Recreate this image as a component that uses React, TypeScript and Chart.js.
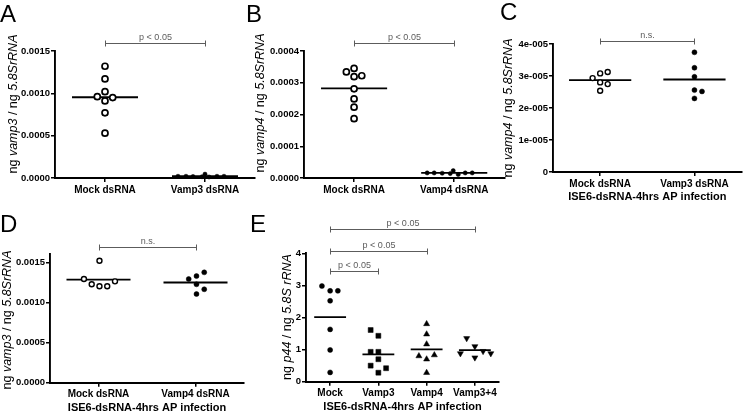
import React, { useEffect, useRef } from 'react';
import { Chart, registerables } from 'chart.js';
Chart.register(...registerables);

const FONT = 'Arial, "Liberation Sans", Helvetica, sans-serif';

// ---------- Panel A ----------
const A_CATEGORIES = ['Mock dsRNA', 'Vamp3 dsRNA'];
const A_MOCK = [0.00132, 0.00117, 0.00102, 0.00096, 0.00095, 0.00091, 0.00077, 0.00053];
const A_MOCK_X_OFFSET = [0, 0, 0, -0.077, 0.077, 0, 0, 0];
const A_VAMP3 = [0.00002, 0.00002, 0.000018, 0.000015, 0.000045, 0.000012, 0.00002, 0.00002];
const A_VAMP3_X_OFFSET = [-0.27, -0.19, -0.12, -0.03, 0, 0.04, 0.12, 0.19];
const A_Y_TICKS = [0, 0.0005, 0.001, 0.0015];
const A_Y_TICK_LABELS = ['0.0000', '0.0005', '0.0010', '0.0015'];
const A_Y_TITLE = [['ng ', false], ['vamp3', true], [' / ng ', false], ['5.8SrRNA', true]];

// ---------- Panel B ----------
const B_CATEGORIES = ['Mock dsRNA', 'Vamp4 dsRNA'];
const B_MOCK = [0.000334, 0.000345, 0.000319, 0.000322, 0.000281, 0.000249, 0.000223, 0.000187];
const B_MOCK_X_OFFSET = [-0.077, 0, 0, 0.077, 0, 0, 0, 0];
const B_VAMP4 = [0.000016, 0.000016, 0.000015, 0.000014, 0.000023, 0.000011, 0.000016, 0.000016];
const B_VAMP4_X_OFFSET = [-0.27, -0.2, -0.12, -0.04, -0.01, 0.04, 0.11, 0.18];
const B_Y_TICKS = [0, 0.0001, 0.0002, 0.0003, 0.0004];
const B_Y_TICK_LABELS = ['0.0000', '0.0001', '0.0002', '0.0003', '0.0004'];
const B_Y_TITLE = [['ng ', false], ['vamp4', true], [' / ng ', false], ['5.8SrRNA', true]];

// ---------- Panel C ----------
const C_CATEGORIES = ['Mock dsRNA', 'Vamp3 dsRNA'];
const C_MOCK = [2.935e-5, 3.082e-5, 3.123e-5, 2.8e-5, 2.747e-5, 2.537e-5];
const C_MOCK_X_OFFSET = [-0.08, 0, 0.08, 0, 0.08, 0];
const C_VAMP3 = [3.74e-5, 3.257e-5, 2.975e-5, 2.559e-5, 2.518e-5, 2.299e-5];
const C_VAMP3_X_OFFSET = [0, 0, 0, 0, 0.08, 0];
const C_Y_TICKS = [0, 1e-5, 2e-5, 3e-5, 4e-5];
const C_Y_TICK_LABELS = ['0', '1e-005', '2e-005', '3e-005', '4e-005'];
const C_Y_TITLE = [['ng ', false], ['vamp4', true], [' / ng ', false], ['5.8SrRNA', true]];

// ---------- Panel D ----------
const D_CATEGORIES = ['Mock dsRNA', 'Vamp4 dsRNA'];
const D_MOCK = [0.001292, 0.00152, 0.001226, 0.001201, 0.001201, 0.001263];
const D_MOCK_X_OFFSET = [-0.15, 0.01, -0.07, 0.01, 0.09, 0.17];
const D_VAMP4 = [0.001292, 0.001329, 0.001375, 0.001226, 0.001164, 0.001105];
const D_VAMP4_X_OFFSET = [-0.07, 0.01, 0.09, 0.01, 0.09, 0.01];
const D_Y_TICKS = [0, 0.0005, 0.001, 0.0015];
const D_Y_TICK_LABELS = ['0.0000', '0.0005', '0.0010', '0.0015'];
const D_Y_TITLE = [['ng ', false], ['vamp3', true], [' / ng ', false], ['5.8SrRNA', true]];

// ---------- Panel E ----------
const E_CATEGORIES = ['Mock', 'Vamp3', 'Vamp4', 'Vamp3+4'];
const E_MOCK = [2.98, 2.83, 2.83, 2.52, 1.63, 0.99, 0.29];
const E_MOCK_X_OFFSET = [-0.17, 0, 0.16, 0, 0, 0, 0];
const E_VAMP3 = [1.61, 1.43, 0.93, 0.93, 0.7, 0.5, 0.42, 0.28];
const E_VAMP3_X_OFFSET = [-0.16, 0, -0.16, 0, 0, -0.16, 0.16, 0];
const E_VAMP4 = [1.8, 1.48, 1.17, 0.8, 0.83, 0.7, 0.28];
const E_VAMP4_X_OFFSET = [0, 0, 0, -0.16, 0.16, 0, 0];
const E_VAMP34 = [1.35, 1.1, 0.88, 0.95, 0.88, 0.75];
const E_VAMP34_X_OFFSET = [-0.17, 0, -0.3, 0.17, 0.33, 0];
const E_Y_TICKS = [0, 1, 2, 3, 4];
const E_Y_TICK_LABELS = ['0', '1', '2', '3', '4'];
const E_Y_TITLE = [['ng ', false], ['p44', true], [' / ng ', false], ['5.8S rRNA', true]];

const X_TITLE = 'ISE6-dsRNA-4hrs AP infection';

// ---------- marker styles ----------
const OPEN_BIG = { style: 'circle', radius: 3, borderWidth: 1.7, fill: '#ffffff', rotation: 0 };
const DOT_SMALL = { style: 'circle', radius: 2.1, borderWidth: 0.5, fill: '#000000', rotation: 0 };
const OPEN_MED = { style: 'circle', radius: 2.5, borderWidth: 1.4, fill: '#ffffff', rotation: 0 };
const DOT_MED = { style: 'circle', radius: 2.5, borderWidth: 0.5, fill: '#000000', rotation: 0 };
const SQUARE = { style: 'rect', radius: 3.5, borderWidth: 0.5, fill: '#000000', rotation: 0 };
const TRI_UP = { style: 'triangle', radius: 3.5, borderWidth: 0.5, fill: '#000000', rotation: 0 };
const TRI_DOWN = { style: 'triangle', radius: 3.5, borderWidth: 0.5, fill: '#000000', rotation: 180 };

const MEAN_HALF = 0.33;
const BRACKET_COLOR = '#5c5c5c';

const PANELS = [
  {
    letter: 'A', letterPos: [0, 22],
    canvas: { x: 0, y: 0, w: 262, h: 205 },
    area: { left: 55, right: 255, top: 51, bottom: 178 },
    categories: A_CATEGORIES,
    groups: [
      { values: A_MOCK, offsets: A_MOCK_X_OFFSET, marker: OPEN_BIG },
      { values: A_VAMP3, offsets: A_VAMP3_X_OFFSET, marker: DOT_SMALL },
    ],
    yMin: 0, yMax: 0.0015, yTicks: A_Y_TICKS, yTickLabels: A_Y_TICK_LABELS,
    yTitle: A_Y_TITLE, yTitlePos: [14, 104],
    xTitle: null, xTitleY: 0,
    brackets: [{ from: 1, to: 2, level: 0.0016, label: 'p < 0.05' }],
  },
  {
    letter: 'B', letterPos: [246, 22],
    canvas: { x: 245, y: 0, w: 265, h: 205 },
    area: { left: 304, right: 506, top: 51, bottom: 178 },
    categories: B_CATEGORIES,
    groups: [
      { values: B_MOCK, offsets: B_MOCK_X_OFFSET, marker: OPEN_BIG },
      { values: B_VAMP4, offsets: B_VAMP4_X_OFFSET, marker: DOT_SMALL },
    ],
    yMin: 0, yMax: 0.0004, yTicks: B_Y_TICKS, yTickLabels: B_Y_TICK_LABELS,
    yTitle: B_Y_TITLE, yTitlePos: [261, 103],
    xTitle: null, xTitleY: 0,
    brackets: [{ from: 1, to: 2, level: 0.000425, label: 'p < 0.05' }],
  },
  {
    letter: 'C', letterPos: [500, 20],
    canvas: { x: 495, y: 0, w: 252, h: 205 },
    area: { left: 553, right: 747, top: 44, bottom: 172 },
    categories: C_CATEGORIES,
    groups: [
      { values: C_MOCK, offsets: C_MOCK_X_OFFSET, marker: OPEN_MED },
      { values: C_VAMP3, offsets: C_VAMP3_X_OFFSET, marker: DOT_MED },
    ],
    yMin: 0, yMax: 4e-5, yTicks: C_Y_TICKS, yTickLabels: C_Y_TICK_LABELS,
    yTitle: C_Y_TITLE, yTitlePos: [508.5, 108],
    xTitle: X_TITLE, xTitleY: 197,
    brackets: [{ from: 1, to: 2, level: 4.1e-5, label: 'n.s.' }],
  },
  {
    letter: 'D', letterPos: [0, 232],
    canvas: { x: 0, y: 205, w: 250, h: 206 },
    area: { left: 50, right: 244, top: 254.3, bottom: 382.7 },
    categories: D_CATEGORIES,
    groups: [
      { values: D_MOCK, offsets: D_MOCK_X_OFFSET, marker: OPEN_MED },
      { values: D_VAMP4, offsets: D_VAMP4_X_OFFSET, marker: DOT_MED },
    ],
    yMin: 0, yMax: 0.0016, yTicks: D_Y_TICKS, yTickLabels: D_Y_TICK_LABELS,
    yTitle: D_Y_TITLE, yTitlePos: [8, 320],
    xTitle: X_TITLE, xTitleY: 408,
    brackets: [{ from: 1, to: 2, level: 0.00169, label: 'n.s.' }],
  },
  {
    letter: 'E', letterPos: [250, 232],
    canvas: { x: 245, y: 205, w: 262, h: 206 },
    area: { left: 306, right: 499, top: 253.3, bottom: 381.7 },
    categories: E_CATEGORIES,
    groups: [
      { values: E_MOCK, offsets: E_MOCK_X_OFFSET, marker: DOT_MED },
      { values: E_VAMP3, offsets: E_VAMP3_X_OFFSET, marker: SQUARE },
      { values: E_VAMP4, offsets: E_VAMP4_X_OFFSET, marker: TRI_UP },
      { values: E_VAMP34, offsets: E_VAMP34_X_OFFSET, marker: TRI_DOWN },
    ],
    yMin: 0, yMax: 4, yTicks: E_Y_TICKS, yTickLabels: E_Y_TICK_LABELS,
    yTitle: E_Y_TITLE, yTitlePos: [288, 317],
    xTitle: X_TITLE, xTitleY: 407,
    brackets: [
      { from: 1, to: 2, level: 3.45, label: 'p < 0.05' },
      { from: 1, to: 3, level: 4.07, label: 'p < 0.05' },
      { from: 1, to: 4, level: 4.76, label: 'p < 0.05' },
    ],
  },
];

const Y_TITLE_SIZE = 12.5;

function decorPlugin(p: any) {
  return {
    id: 'decor' + p.letter,
    afterDraw(chart: any) {
      const ctx = chart.ctx;
      const ox = p.canvas.x;
      const oy = p.canvas.y;
      ctx.save();
      // panel letter
      ctx.fillStyle = '#000';
      ctx.font = `24px ${FONT}`;
      ctx.textAlign = 'left';
      ctx.textBaseline = 'alphabetic';
      ctx.fillText(p.letter, p.letterPos[0] - ox, p.letterPos[1] - oy);

      // y title (mixed italic)
      ctx.save();
      ctx.translate(p.yTitlePos[0] - ox, p.yTitlePos[1] - oy);
      ctx.rotate(-Math.PI / 2);
      const fontFor = (it: boolean) => `${it ? 'italic ' : ''}${Y_TITLE_SIZE}px ${FONT}`;
      let total = 0;
      const widths = p.yTitle.map((s: any) => {
        ctx.font = fontFor(s[1]);
        const w = ctx.measureText(s[0]).width;
        total += w;
        return w;
      });
      let x = -total / 2;
      ctx.textBaseline = 'middle';
      p.yTitle.forEach((s: any, i: number) => {
        ctx.font = fontFor(s[1]);
        ctx.fillText(s[0], x, 0);
        x += widths[i];
      });
      ctx.restore();

      // x title
      if (p.xTitle) {
        ctx.font = `bold 11px ${FONT}`;
        ctx.textAlign = 'center';
        ctx.textBaseline = 'middle';
        ctx.fillText(p.xTitle, (chart.chartArea.left + chart.chartArea.right) / 2, p.xTitleY - oy);
      }

      // significance brackets
      const xs = chart.scales.x;
      const ys = chart.scales.y;
      ctx.strokeStyle = BRACKET_COLOR;
      ctx.fillStyle = BRACKET_COLOR;
      ctx.lineWidth = 1;
      p.brackets.forEach((b: any) => {
        const x1 = Math.round(xs.getPixelForValue(b.from)) + 0.5;
        const x2 = Math.round(xs.getPixelForValue(b.to)) + 0.5;
        const y = Math.round(ys.getPixelForValue(b.level)) + 0.5;
        ctx.beginPath();
        ctx.moveTo(x1, y - 3);
        ctx.lineTo(x1, y + 3);
        ctx.moveTo(x1, y);
        ctx.lineTo(x2, y);
        ctx.moveTo(x2, y - 3);
        ctx.lineTo(x2, y + 3);
        ctx.stroke();
        ctx.font = `9px ${FONT}`;
        ctx.textAlign = 'center';
        ctx.textBaseline = 'alphabetic';
        ctx.fillText(b.label, (x1 + x2) / 2, y - 4);
      });
      ctx.restore();
    },
  };
}

function buildConfig(p: any) {
  const c = p.canvas;
  const a = p.area;
  const datasets: any[] = [];
  p.groups.forEach((g: any, gi: number) => {
    const cat = gi + 1;
    datasets.push({
      data: g.values.map((v: number, i: number) => ({ x: cat + g.offsets[i], y: v })),
      pointStyle: g.marker.style,
      pointRotation: g.marker.rotation,
      pointRadius: g.marker.radius,
      pointBorderWidth: g.marker.borderWidth,
      pointBackgroundColor: g.marker.fill,
      pointBorderColor: '#000',
      showLine: false,
      clip: false,
      order: 0,
    });
    const mean = g.values.reduce((s: number, v: number) => s + v, 0) / g.values.length;
    datasets.push({
      data: [{ x: cat - MEAN_HALF, y: mean }, { x: cat + MEAN_HALF, y: mean }],
      showLine: true,
      borderColor: '#000',
      borderWidth: 1.8,
      pointRadius: 0,
      clip: false,
      order: 1,
    });
  });
  const gridOpts = { display: true, drawOnChartArea: false, drawTicks: true, tickLength: 4, color: '#000', lineWidth: 1.5 };
  const borderOpts = { display: true, color: '#000', width: 1.9 };
  return {
    type: 'scatter',
    data: { datasets },
    options: {
      animation: false,
      responsive: false,
      maintainAspectRatio: false,
      events: [],
      layout: { padding: { left: 0, top: a.top - c.y, right: c.x + c.w - a.right, bottom: 0 } },
      plugins: { legend: { display: false }, tooltip: { enabled: false }, title: { display: false } },
      scales: {
        x: {
          type: 'linear',
          min: 0.5,
          max: p.categories.length + 0.5,
          afterBuildTicks: (s: any) => { s.ticks = p.categories.map((_: any, i: number) => ({ value: i + 1 })); },
          afterFit: (s: any) => { s.height = c.y + c.h - a.bottom; },
          ticks: {
            callback: (_v: any, i: number) => p.categories[i],
            font: { family: FONT, size: 10, weight: 'bold' },
            color: '#000', padding: 2, maxRotation: 0, minRotation: 0, autoSkip: false,
          },
          grid: gridOpts,
          border: borderOpts,
        },
        y: {
          type: 'linear',
          min: p.yMin,
          max: p.yMax,
          afterBuildTicks: (s: any) => { s.ticks = p.yTicks.map((v: number) => ({ value: v })); },
          afterFit: (s: any) => { s.width = a.left - c.x; },
          ticks: {
            callback: (_v: any, i: number) => p.yTickLabels[i],
            font: { family: FONT, size: 9.5, weight: 'bold' },
            color: '#000', padding: 1, autoSkip: false,
          },
          grid: gridOpts,
          border: borderOpts,
        },
      },
    },
    plugins: [decorPlugin(p)],
  };
}

function Panel({ spec }: { spec: any }) {
  const ref = useRef<HTMLCanvasElement>(null);
  useEffect(() => {
    const chart = new Chart(ref.current as HTMLCanvasElement, buildConfig(spec) as any);
    return () => chart.destroy();
  }, [spec]);
  const c = spec.canvas;
  return (
    <canvas
      ref={ref}
      width={c.w}
      height={c.h}
      style={{ position: 'absolute', left: c.x, top: c.y, width: c.w, height: c.h }}
    />
  );
}

export default function App() {
  return (
    <div style={{ position: 'absolute', left: 0, top: 0, width: 747, height: 411, background: '#fff', overflow: 'hidden' }}>
      {PANELS.map((p) => (
        <Panel key={p.letter} spec={p} />
      ))}
    </div>
  );
}
